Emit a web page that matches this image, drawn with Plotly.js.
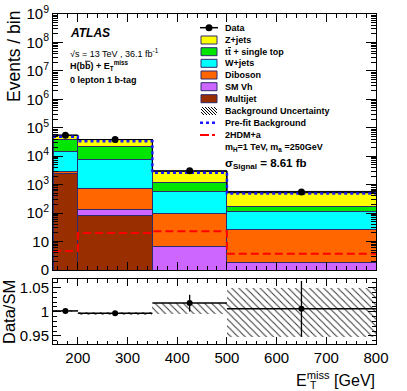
<!DOCTYPE html>
<html>
<head>
<meta charset="utf-8">
<script src="https://cdn.plot.ly/plotly-3.0.1.min.js"></script>
<style>
  body { margin: 0; background: #fff; }
  #fig { width: 407px; height: 391px; }
</style>
</head>
<body>
<div id="fig"></div>
<script>
// bins in ETmiss [GeV]
var edges = [150, 200, 350, 500, 800];

// post-fit stack, bottom to top (events / bin)
var multijet = [2450, 83, 0, 0];
var smvh     = [40, 49, 6.8, 1.9];
var diboson  = [450, 592, 88.7, 25.6];
var wjets    = [11200, 7036, 493, 82.5];
var ttbar    = [24800, 14640, 586, 64];
var zjets    = [16000, 16300, 1845, 376];

var data     = [55030, 38585, 3074, 553];
var prefit   = [48600, 33700, 2630, 490];
var signal   = [4.7, 20, 23, 3.7];

// ratio panel
var ratio    = [1.0017, 0.997, 1.018, 1.006];
var ratioErr = [0.004, 0.004, 0.0175, 0.058];
var bandLo   = [0.999, 0.993, 0.996, 0.947];
var bandHi   = [1.003, 1.0005, 1.0175, 1.05];

var font = 'Liberation Sans, Arial, sans-serif';

var centers = [], widths = [], halfw = [], total = [];
for (var i = 0; i < edges.length - 1; i++) {
  centers.push((edges[i] + edges[i+1]) / 2);
  widths.push(edges[i+1] - edges[i]);
  halfw.push((edges[i+1] - edges[i]) / 2);
  total.push(multijet[i] + smvh[i] + diboson[i] + wjets[i] + ttbar[i] + zjets[i]);
}

function stepx() { return edges.slice(); }
function stepy(v) { return v.concat([v[v.length-1]]); }

var outline = '#2e2a6e';
function stackTrace(name, vals, color) {
  return {
    x: centers, y: vals, width: widths, type: 'bar', name: name,
    marker: {color: color, line: {color: outline, width: 1}},
    xaxis: 'x', yaxis: 'y', hoverinfo: 'none'
  };
}

var traces = [
  stackTrace('Multijet', multijet, '#992e00'),
  stackTrace('SM Vh', smvh, '#cc66ff'),
  stackTrace('Diboson', diboson, '#ff6600'),
  stackTrace('W+jets', wjets, '#00ffff'),
  stackTrace('ttbar', ttbar, '#00e600'),
  stackTrace('Z+jets', zjets, '#ffff00')
];

// background uncertainty band (main panel)
var bx = [], by = [];
for (var i = 0; i < centers.length; i++) {
  bx.push(edges[i], edges[i+1]);
  by.push(total[i] * bandHi[i], total[i] * bandHi[i]);
}
for (var i = centers.length - 1; i >= 0; i--) {
  bx.push(edges[i+1], edges[i]);
  by.push(total[i] * bandLo[i], total[i] * bandLo[i]);
}
traces.push({
  x: bx, y: by, type: 'scatter', mode: 'lines', fill: 'toself',
  fillcolor: 'rgba(0,0,0,0)',
  fillpattern: {shape: '\\', fgcolor: 'black', size: 5, solidity: 0.2},
  line: {color: 'black', width: 1}, xaxis: 'x', yaxis: 'y', hoverinfo: 'none'
});

// pre-fit background
traces.push({
  x: stepx(), y: stepy(prefit), type: 'scatter', mode: 'lines',
  line: {shape: 'hv', color: '#1a1aff', width: 2.5, dash: 'dot'},
  xaxis: 'x', yaxis: 'y', hoverinfo: 'none'
});

// 2HDM+a signal
traces.push({
  x: stepx(), y: stepy(signal), type: 'scatter', mode: 'lines',
  line: {shape: 'hv', color: '#ff0000', width: 2, dash: '8px,4px'},
  xaxis: 'x', yaxis: 'y', hoverinfo: 'none'
});

// data
var dataErr = data.map(function(d) { return Math.sqrt(d); });
traces.push({
  x: centers, y: data, type: 'scatter', mode: 'markers',
  marker: {color: 'black', size: 7},
  error_y: {type: 'data', array: dataErr, color: 'black', thickness: 1.2, width: 0},
  xaxis: 'x', yaxis: 'y', hoverinfo: 'none'
});

// ratio panel: hatched band then data
traces.push({
  x: centers, base: bandLo, y: bandHi.map(function(h, i) { return h - bandLo[i]; }),
  width: widths, type: 'bar',
  marker: {color: 'rgba(0,0,0,0)', line: {width: 0},
           pattern: {shape: '\\', fgcolor: '#333', bgcolor: 'rgba(0,0,0,0)', size: 5, solidity: 0.2, fillmode: 'replace'}},
  xaxis: 'x2', yaxis: 'y2', hoverinfo: 'none'
});
traces.push({
  x: centers, y: ratio, type: 'scatter', mode: 'markers',
  marker: {color: 'black', size: 6},
  error_y: {type: 'data', array: ratioErr, color: 'black', thickness: 1.3, width: 0},
  error_x: {type: 'data', array: halfw, color: 'black', thickness: 1.5, width: 0},
  xaxis: 'x2', yaxis: 'y2', hoverinfo: 'none'
});

// pixel -> paper helpers (plot area 53..376 x 14..344)
var L = 53, R = 376, T = 14, B = 344;
function px(x) { return (x - L) / (R - L); }
function py(y) { return (B - y) / (B - T); }

var ytv = [], ytt = [], ymin = [];
for (var d = 0; d <= 9; d++) {
  ytv.push(Math.pow(10, d));
  ytt.push(d === 0 ? '0' : (d === 1 ? '10' : '10<sup>' + d + '</sup>'));
  if (d < 9) for (var k = 2; k <= 9; k++) ymin.push(k * Math.pow(10, d));
}
var rmin = [];
for (var v = 94; v <= 106; v++) rmin.push(v / 100);

var axisCommon = {
  showline: true, linecolor: 'black', linewidth: 1, mirror: 'ticks',
  ticks: 'inside', tickcolor: 'black', showgrid: false, zeroline: false,
  tickfont: {family: font, size: 15, color: 'black'}
};

function ax(extra) {
  var o = {};
  for (var k in axisCommon) o[k] = axisCommon[k];
  for (var k in extra) o[k] = extra[k];
  return o;
}

// legend
var legY = [27.7, 40, 51.7, 63.3, 75, 86.7, 98.7, 111, 122.7, 135];
var legText = ['Data', 'Z+jets', 't<span style="text-decoration:overline">t</span> + single top', 'W+jets', 'Diboson',
               'SM Vh', 'Multijet', 'Background Uncertainty', 'Pre-fit Background', '2HDM+a'];
var boxCols = [null, '#ffff00', '#00e600', '#00ffff', '#ff6600', '#cc66ff', '#992e00'];
var sx0 = 201, sx1 = 217, tx = 223;

var shapes = [], annotations = [];
for (var i = 0; i < legText.length; i++) {
  annotations.push({
    xref: 'paper', yref: 'paper', x: px(tx), y: py(legY[i]), xanchor: 'left', yanchor: 'middle',
    text: '<b>' + legText[i] + '</b>', showarrow: false,
    font: {family: font, size: 9, color: 'black'}
  });
  if (boxCols[i]) {
    shapes.push({type: 'rect', xref: 'paper', yref: 'paper',
      x0: px(sx0), x1: px(sx1), y0: py(legY[i] - 4), y1: py(legY[i] + 4),
      fillcolor: boxCols[i], line: {color: outline, width: 1}});
  }
}
// data symbol
shapes.push({type: 'line', xref: 'paper', yref: 'paper', x0: px(sx0 - 1), x1: px(sx1 + 1),
  y0: py(legY[0]), y1: py(legY[0]), line: {color: 'black', width: 1.5}});
shapes.push({type: 'circle', xref: 'paper', yref: 'paper', x0: px(209 - 3.5), x1: px(209 + 3.5),
  y0: py(legY[0] - 3.5), y1: py(legY[0] + 3.5), fillcolor: 'black', line: {color: 'black', width: 0}});
// hatch symbol
var hy0 = legY[7] - 4, hy1 = legY[7] + 4, path = '';
for (var s = sx0 - 8; s < sx1; s += 3) {
  var xa = s, ya = hy0, xb = s + 8, yb = hy1;
  if (xa < sx0) { ya = hy0 + (sx0 - xa); xa = sx0; }
  if (xb > sx1) { yb = hy1 - (xb - sx1); xb = sx1; }
  if (ya >= yb) continue;
  path += 'M' + px(xa) + ',' + py(ya) + ' L' + px(xb) + ',' + py(yb) + ' ';
}
shapes.push({type: 'path', xref: 'paper', yref: 'paper', path: path, line: {color: 'black', width: 1}});
// pre-fit symbol
shapes.push({type: 'line', xref: 'paper', yref: 'paper', x0: px(sx0 - 1), x1: px(sx1 + 1),
  y0: py(legY[8]), y1: py(legY[8]), line: {color: '#1a1aff', width: 2.5, dash: 'dot'}});
// signal symbol
shapes.push({type: 'line', xref: 'paper', yref: 'paper', x0: px(sx0 - 1), x1: px(sx1 + 1),
  y0: py(legY[9]), y1: py(legY[9]), line: {color: '#ff0000', width: 2, dash: 'dashdot'}});

function note(x, y, text, size, anchor) {
  annotations.push({xref: 'paper', yref: 'paper', x: px(x), y: py(y), xanchor: anchor || 'left',
    yanchor: 'middle', text: text, showarrow: false, font: {family: font, size: size, color: 'black'}});
}
note(tx, 147.7, '<b>m<sub>H</sub>=1 TeV, m<sub>a</sub> =250GeV</b>', 9);
note(tx, 164, '<b>σ<sub>Signal</sub> = 8.61 fb</b>', 11.5);

note(68, 33, '<b><i>ATLAS</i></b>', 12);
note(68, 53, '√s = 13 TeV , 36.1 fb<sup>-1</sup>', 9);
note(68, 65, '<b>H(b<span style="text-decoration:overline">b</span>) + E<sub>T</sub><sup>miss</sup></b>', 9);
note(68, 80, '<b>0 lepton 1 b-tag</b>', 9);

// axis titles
annotations.push({xref: 'paper', yref: 'paper', x: px(14), y: py(57), xanchor: 'center', yanchor: 'middle',
  textangle: -90, text: 'Events / bin', showarrow: false, font: {family: font, size: 17.5, color: 'black'}});
annotations.push({xref: 'paper', yref: 'paper', x: px(9), y: py(312), xanchor: 'center', yanchor: 'middle',
  textangle: -90, text: 'Data/SM', showarrow: false, font: {family: font, size: 16.5, color: 'black'}});
// E with stacked T subscript and "miss" superscript
note(377, 379, 'E<sup>miss</sup> [GeV]', 16, 'right');
note(308, 385, 'T', 10.5);

var layout = {
  width: 407, height: 391,
  margin: {l: L, r: 407 - R, t: T, b: 391 - B},
  paper_bgcolor: 'white', plot_bgcolor: 'white',
  showlegend: false, barmode: 'stack', bargap: 0,
  font: {family: font, color: 'black'},
  xaxis: ax({domain: [0, 1], anchor: 'y', range: [150, 800], tick0: 0, dtick: 100, ticklen: 8,
             showticklabels: false, minor: {ticks: 'inside', ticklen: 4, dtick: 20, tick0: 0, tickcolor: 'black'}}),
  yaxis: ax({domain: [py(270), 1], anchor: 'x', type: 'log', range: [0, 9], tickmode: 'array',
             tickvals: ytv, ticktext: ytt, ticklen: 10,
             minor: {ticks: 'inside', ticklen: 5, tickmode: 'array', tickvals: ymin, tickcolor: 'black'}}),
  xaxis2: ax({domain: [0, 1], anchor: 'y2', range: [150, 800], tick0: 0, dtick: 100, ticklen: 7,
              minor: {ticks: 'inside', ticklen: 3.5, dtick: 20, tick0: 0, tickcolor: 'black'}}),
  yaxis2: ax({domain: [0, py(279)], anchor: 'x2', range: [0.933, 1.068], tickmode: 'array',
              tickvals: [0.95, 1, 1.05], ticktext: ['0.95', '1', '1.05'], ticklen: 8,
              minor: {ticks: 'inside', ticklen: 4, tickmode: 'array', tickvals: rmin, tickcolor: 'black'}}),
  shapes: shapes,
  annotations: annotations
};

Plotly.newPlot('fig', traces, layout, {staticPlot: true, displayModeBar: false});
</script>
</body>
</html>
